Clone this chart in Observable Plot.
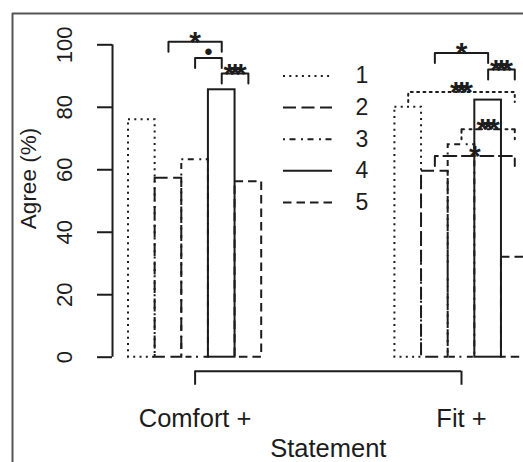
<!DOCTYPE html>
<html><head><meta charset="utf-8">
<script src="https://cdn.jsdelivr.net/npm/d3@7"></script>
<script src="https://cdn.jsdelivr.net/npm/@observablehq/plot@0.6"></script>
<style>
html,body{margin:0;padding:0;background:#fff;overflow:hidden;}
#chart{width:523px;height:462px;overflow:hidden;}
</style></head><body><div id="chart"></div>
<script>
// ---- data ----
const statements = ["Comfort +", "Fit +"];
const seriesNames = ["1", "2", "3", "4", "5"];
const comfortValues = [76, 57.3, 63.2, 85.6, 56.2];
const fitValues = [80, 59.5, 68, 82.3, 32];
const yTicks = [0, 20, 40, 60, 80, 100];
// significance brackets
const bracketGroup  = [0, 0, 0, 1, 1, 1, 1, 1];
const bracketFrom   = [2, 3, 4, 2, 4, 1, 3, 2];
const bracketTo     = [4, 4, 5, 4, 5, 5, 5, 5];
const bracketHeight = [101, 95.8, 90.8, 97.4, 92.1, 84.9, 73, 64.4];
const bracketLabel  = ["*", "•", "***", "*", "***", "***", "***", "*"];
const bracketStyle  = ["4", "4", "4", "4", "4", "1", "3", "2"];

// ---- styling ----
const dashes = {"1": "2 4.3", "2": "13 5.5", "3": "2 4.5 6 5.5", "4": null, "5": "8.5 5"};
const ink = "#1c1c1c";
const lw = 2;
const groupValues = [comfortValues, fitValues];
const slotsPerGroup = 10;       // 5 bars + 5 bars of space
const nSlots = 15;
const x0px = 128, x1px = 527.6, y0px = 356.7, y100px = 44.3;
const pxPerSlot = (x1px - x0px) / nSlots;
const pxPerUnit = (y0px - y100px) / 100;
const xFromPx = px => (px - x0px) / pxPerSlot;
const yFromPx = px => (y0px - px) / pxPerUnit;
const yAxisX = -0.6;            // R: 4% extension of usr
const xAxisY = -4.5;
const tipDepth = 3.2;

const bars = [];
groupValues.forEach((vals, g) => vals.forEach((v, k) => bars.push({series: seriesNames[k], slot: g * slotsPerGroup + k, v})));

const brPts = [];
const brLabels = [];
bracketGroup.forEach((g, i) => {
  const a = g * slotsPerGroup + bracketFrom[i] - 0.5;
  const b = g * slotsPerGroup + bracketTo[i] - 0.5;
  const h = bracketHeight[i];
  const st = bracketStyle[i];
  brPts.push({id: i, st, x: a, y: h - tipDepth}, {id: i, st, x: a, y: h}, {id: i, st, x: b, y: h}, {id: i, st, x: b, y: h - tipDepth});
  brLabels.push({x: (a + b) / 2, y: h, label: bracketLabel[i]});
});

const legendTop = yFromPx(75.5), legendStep = 31.6 / pxPerUnit;
const legendRows = seriesNames.map((s, i) => ({s, y: legendTop - i * legendStep}));

const marks = [
  // figure box (left and top edges visible)
  Plot.ruleX([xFromPx(12)], {stroke: "#555", strokeWidth: 2}),
  Plot.ruleY([yFromPx(13)], {stroke: "#555", strokeWidth: 2})
];
seriesNames.forEach(s => {
  marks.push(Plot.rect(bars.filter(d => d.series === s), {
    x1: "slot", x2: d => d.slot + 1, y1: 0, y2: "v",
    fill: "none", stroke: ink, strokeWidth: lw, strokeDasharray: dashes[s]
  }));
  const pts = brPts.filter(d => d.st === s);
  if (pts.length) marks.push(Plot.line(pts, {x: "x", y: "y", z: "id", stroke: ink, strokeWidth: lw, strokeDasharray: dashes[s], curve: "linear"}));
  const row = legendRows.filter(d => d.s === s);
  marks.push(Plot.ruleY(row, {y: "y", x1: xFromPx(283), x2: xFromPx(332), stroke: ink, strokeWidth: lw, strokeDasharray: dashes[s]}));
});
marks.push(
  Plot.text(legendRows, {y: "y", x: xFromPx(355), text: "s", textAnchor: "start", fontSize: 23, fill: ink}),
  // y axis
  Plot.ruleX([yAxisX], {y1: 0, y2: 100, stroke: ink, strokeWidth: lw}),
  Plot.ruleY(yTicks, {y: d => d, x1: yAxisX, x2: yAxisX - 15 / pxPerSlot, stroke: ink, strokeWidth: lw}),
  Plot.text(yTicks, {y: d => d, x: yAxisX, dx: -48, text: d => String(d), rotate: -90, fontSize: 22, fill: ink}),
  Plot.text(["Agree (%)"], {x: yAxisX, y: yFromPx(178), dx: -84, text: d => d, rotate: -90, fontSize: 22.5, fill: ink}),
  // x axis
  Plot.ruleY([xAxisY], {x1: 2.5, x2: slotsPerGroup + 2.5, stroke: ink, strokeWidth: lw}),
  Plot.ruleX(statements, {x: (d, i) => i * slotsPerGroup + 2.5, y1: xAxisY, y2: xAxisY - 14 / pxPerUnit, stroke: ink, strokeWidth: lw}),
  Plot.text(statements, {x: (d, i) => i * slotsPerGroup + 2.5, y: xAxisY, dy: 56, lineAnchor: "bottom", text: d => d, fontSize: 25.5, fill: ink}),
  Plot.text(["Statement"], {x: 7.5, y: xAxisY, dy: 86, lineAnchor: "bottom", text: d => d, fontSize: 25.5, fill: ink}),
  // significance labels
  Plot.text(brLabels.filter(d => d.label !== "•"), {x: "x", y: "y", text: "label", fontSize: 30, fontWeight: "bold", dy: 0.5, fill: ink}),
  Plot.text(brLabels.filter(d => d.label === "•"), {x: "x", y: "y", text: "label", fontSize: 24, dy: -5.5, fill: ink})
);

const chart = Plot.plot({
  width: 523, height: 462,
  marginLeft: 12, marginTop: 13, marginRight: 0, marginBottom: 0,
  x: {type: "linear", domain: [0, nSlots], range: [x0px, x1px], axis: null},
  y: {type: "linear", domain: [0, 100], range: [y0px, y100px], axis: null},
  style: {fontFamily: "'Liberation Sans', Arial, Helvetica, sans-serif", background: "white", overflow: "hidden"},
  marks
});
d3.select(chart).selectAll("text").filter(function() { return this.textContent === "***"; })
  .attr("letter-spacing", "-6px").attr("dx", "-3");
document.getElementById("chart").appendChild(chart);
</script></body></html>
